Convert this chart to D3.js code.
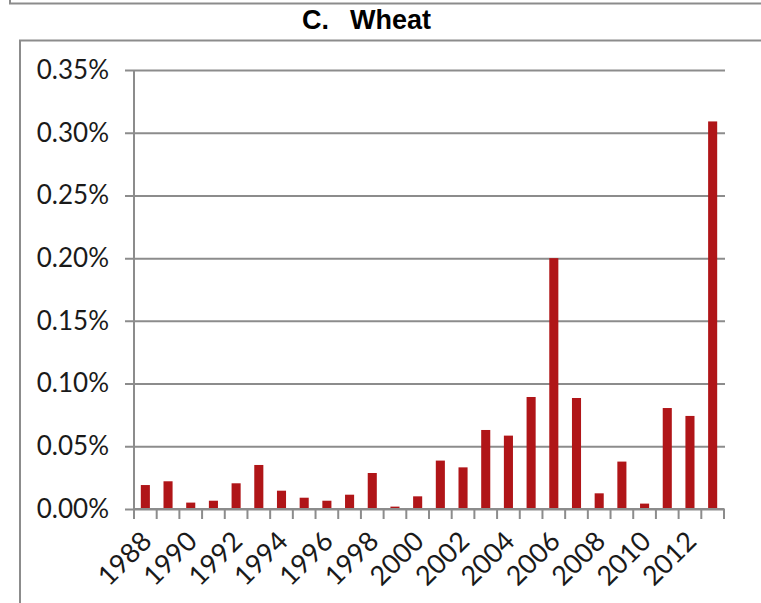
<!DOCTYPE html>
<html>
<script src='https://d3js.org/d3.v7.min.js'></script>
<style>
  body { margin: 0; background: #fff; }
  text { font-family: "Century Gothic", Lato, sans-serif; fill: #1a1a1a; }
</style>
<body>
<svg width=761 height=603></svg>
<script>
var years = ["1988","1989","1990","1991","1992","1993","1994","1995","1996","1997","1998","1999","2000",
             "2001","2002","2003","2004","2005","2006","2007","2008","2009","2010","2011","2012","2013"]
var shares = [0.0191,0.0221,0.0051,0.0066,0.0205,0.0351,0.0146,0.0090,0.0066,0.0114,0.0287,0.0019,0.0101,
              0.0386,0.0332,0.0630,0.0585,0.0893,0.2000,0.0885,0.0125,0.0378,0.0043,0.0805,0.0742,0.3090]
var yTicks = [0,0.05,0.10,0.15,0.20,0.25,0.30,0.35]

var svg = d3.select("svg")
var grey = "#8c8c8c"

// outer frames
svg.append("path").attr("d", "M10,0V3.5H761").attr("fill","none").attr("stroke",grey).attr("stroke-width",2)
svg.append("path").attr("d", "M20,603V40.5H761").attr("fill","none").attr("stroke",grey).attr("stroke-width",2)

// title
svg.append("text").attr("x",302).attr("y",29).style("font-family","'Liberation Sans', Arial, sans-serif")
  .style("font-weight","bold").style("font-size","27px").style("fill","#000").text("C.")
svg.append("text").attr("x",350).attr("y",29).style("font-family","'Liberation Sans', Arial, sans-serif")
  .style("font-weight","bold").style("font-size","27px").style("fill","#000").text("Wheat")

var x = d3.scaleBand().domain(years).range([134, 724]).paddingInner(0).paddingOuter(0)
var y = d3.scaleLinear().domain([0, 0.35]).range([509, 70])

// gridlines + y labels
var yAxis = d3.axisLeft(y).tickValues(yTicks).tickSize(-600).tickPadding(16)
  .tickFormat(function(d){ return d.toFixed(2) + "%"; })
var gy = svg.append("g").attr("transform","translate(125,0)").call(yAxis)
gy.select(".domain").remove()
gy.selectAll("line").attr("stroke",grey).attr("stroke-width",2)
gy.selectAll("text").style("font-size","26px").attr("x",-16).attr("fill","#1a1a1a")

// y axis line
svg.append("line").attr("x1",134).attr("x2",134).attr("y1",y(0.35)).attr("y2",y(0))
  .attr("stroke",grey).attr("stroke-width",2)

// bars
var bw = x.bandwidth() * 0.4
svg.selectAll("rect.bar").data(shares).enter().append("rect")
  .attr("class","bar")
  .attr("x", function(d,i){ return x(years[i]) + x.bandwidth()/2 - bw/2; })
  .attr("y", function(d){ return y(d); })
  .attr("width", bw)
  .attr("height", function(d){ return y(0) - y(d); })
  .attr("fill", "#b01518")

// x axis with ticks at band edges
var edges = years.map(function(d){ return x(d); }).concat([x.range()[1]])
svg.append("line").attr("x1",134).attr("x2",724).attr("y1",509).attr("y2",509)
  .attr("stroke",grey).attr("stroke-width",2)
svg.selectAll("line.xt").data(edges).enter().append("line").attr("class","xt")
  .attr("x1",function(d){return d;}).attr("x2",function(d){return d;})
  .attr("y1",509).attr("y2",519).attr("stroke",grey).attr("stroke-width",2)

// x labels every other year
svg.selectAll("text.xl").data(years.filter(function(d,i){ return i % 2 == 0; })).enter()
  .append("text").attr("class","xl")
  .attr("text-anchor","end")
  .attr("transform", function(d){ return "translate(" + (x(d) + x.bandwidth()/2 + 8) + ",543) rotate(-45)"; })
  .style("font-size","27px")
  .text(function(d){ return d; })
</script>
</body>
</html>
